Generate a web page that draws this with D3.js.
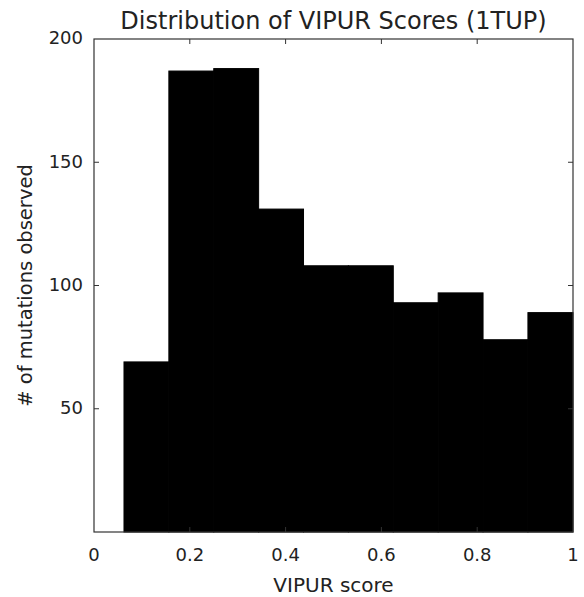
<!DOCTYPE html>
<html lang="en">
  <head>
    <meta charset="UTF-8" />
    <title>VIPUR histogram</title>
    <style>
      body { margin: 0; background: #fff; }
      text { font-family: "DejaVu Sans", sans-serif; fill: #222; }
    </style>
  </head>
  <body>
    <svg width="584" height="597" id="svg"></svg>
    <script src="https://cdn.jsdelivr.net/npm/d3@7"></script>
    <script>
      // histogram bins (edges) and counts
      const binEdges = [0.0626, 0.1563, 0.25, 0.3437, 0.4374, 0.5311, 0.6248, 0.7185, 0.8122, 0.9059, 1.0];
      const counts = [69, 187, 188, 131, 108, 108, 93, 97, 78, 89];
      const xTicks = [0, 0.2, 0.4, 0.6, 0.8, 1];
      const yTicks = [50, 100, 150, 200];

      const svg = d3.select("#svg");
      const margin = { top: 39, left: 94, right: 11, bottom: 65 };
      const width = +svg.attr("width");
      const height = +svg.attr("height");
      const innerW = width - margin.left - margin.right;
      const innerH = height - margin.top - margin.bottom;

      const g = svg.append("g").attr("transform", `translate(${margin.left},${margin.top})`);

      const x = d3.scaleLinear().domain([0, 1]).range([0, innerW]);
      const y = d3.scaleLinear().domain([0, 200]).range([innerH, 0]);

      const bins = counts.map((c, i) => ({ x0: binEdges[i], x1: binEdges[i + 1], n: c }));

      // bars drawn with a same-colour stroke so no seams show between them
      g.selectAll("rect.bar")
        .data(bins)
        .join("rect")
        .attr("class", "bar")
        .attr("x", d => x(d.x0))
        .attr("width", d => x(d.x1) - x(d.x0))
        .attr("y", d => y(d.n))
        .attr("height", d => innerH - y(d.n))
        .attr("fill", "#000")
        .attr("stroke", "#000")
        .attr("stroke-width", 1);

      // inward ticks on all four sides, like matplotlib classic
      const tl = 5;
      const ticks = g.append("g").attr("stroke", "#333").attr("stroke-width", 1);
      xTicks.slice(1, -1).forEach(t => {
        ticks.append("line").attr("x1", x(t)).attr("x2", x(t)).attr("y1", 0).attr("y2", tl);
        ticks.append("line").attr("x1", x(t)).attr("x2", x(t)).attr("y1", innerH).attr("y2", innerH - tl);
      });
      yTicks.slice(0, -1).forEach(t => {
        ticks.append("line").attr("x1", 0).attr("x2", tl).attr("y1", y(t)).attr("y2", y(t));
        ticks.append("line").attr("x1", innerW).attr("x2", innerW - tl).attr("y1", y(t)).attr("y2", y(t));
      });

      g.append("rect")
        .attr("x", 0).attr("y", 0)
        .attr("width", innerW).attr("height", innerH)
        .attr("fill", "none").attr("stroke", "#333").attr("stroke-width", 1.2);

      g.selectAll("text.xt")
        .data(xTicks)
        .join("text")
        .attr("class", "xt")
        .attr("x", d => x(d))
        .attr("y", innerH + 29)
        .attr("text-anchor", "middle")
        .style("font-size", "18px")
        .text(d => d3.format("")(d));

      g.selectAll("text.yt")
        .data(yTicks)
        .join("text")
        .attr("class", "yt")
        .attr("x", -11)
        .attr("y", d => y(d))
        .attr("dy", "0.3em")
        .attr("text-anchor", "end")
        .style("font-size", "18px")
        .text(d => d);

      g.append("text")
        .attr("x", innerW / 2)
        .attr("y", innerH + 60)
        .attr("text-anchor", "middle")
        .style("font-size", "20px")
        .text("VIPUR score");

      g.append("text")
        .attr("transform", `translate(-62,${innerH / 2}) rotate(-90)`)
        .attr("text-anchor", "middle")
        .style("font-size", "19.5px")
        .text("# of mutations observed");

      svg.append("text")
        .attr("x", margin.left + innerW / 2)
        .attr("y", 29)
        .attr("text-anchor", "middle")
        .style("font-size", "24px")
        .text("Distribution of VIPUR Scores (1TUP)");
    </script>
  </body>
</html>
